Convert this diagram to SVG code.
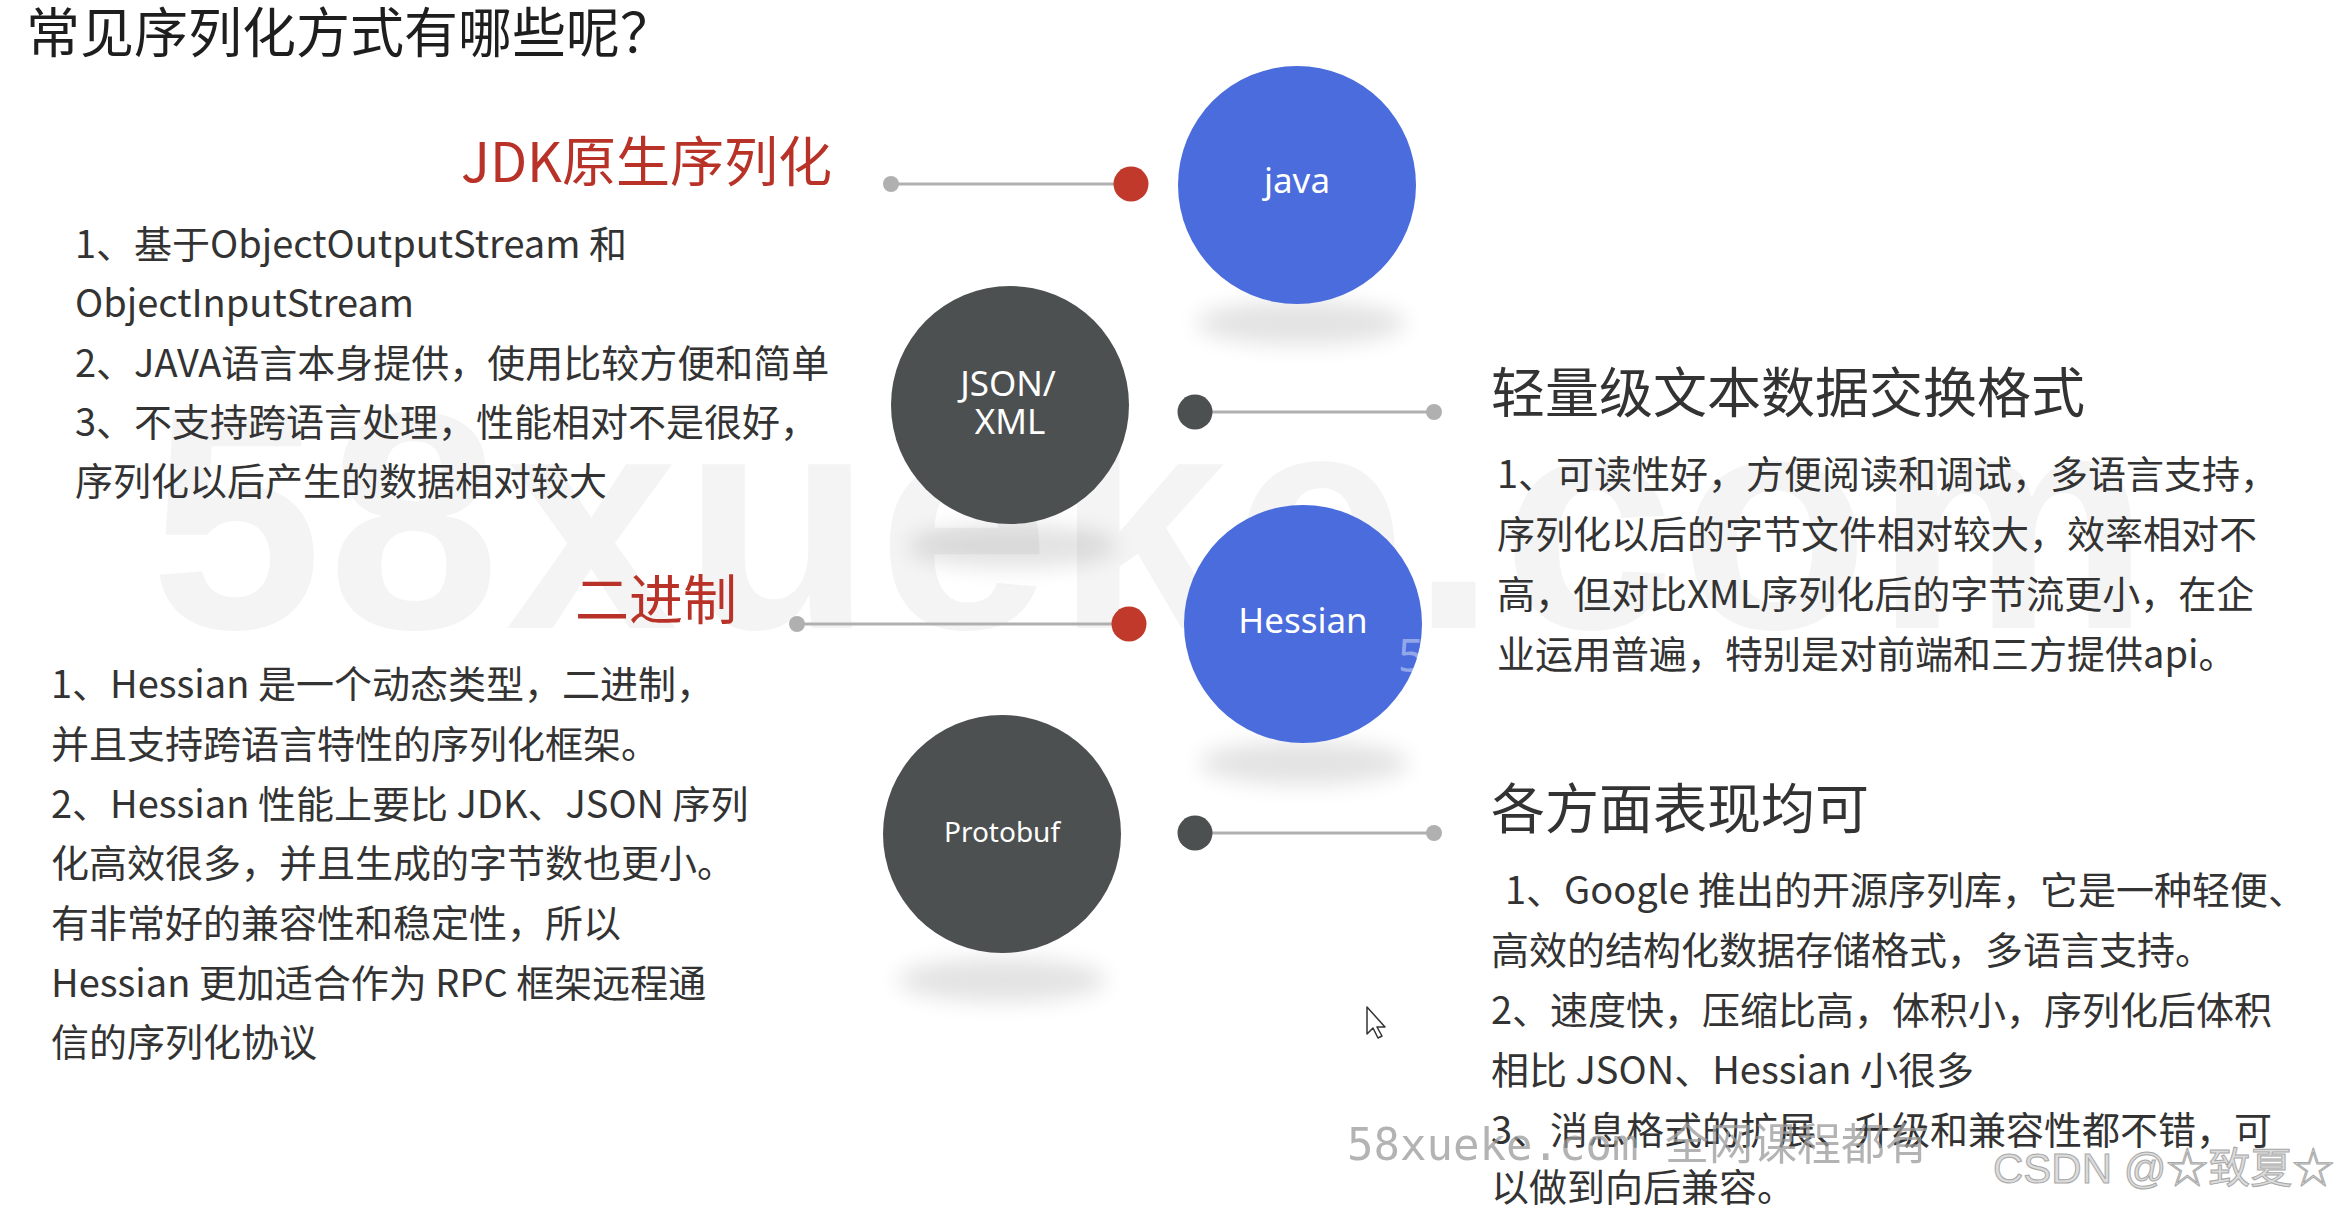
<svg xmlns="http://www.w3.org/2000/svg" width="2345" height="1207" viewBox="0 0 2345 1207">
<style>
.bg{fill:#ffffff}
.wm{font-family:"Liberation Sans","DejaVu Sans",sans-serif;font-weight:bold;font-size:310px;fill:#f4f4f4}
.title{font-family:"Noto Sans CJK SC","Noto Sans",sans-serif;font-size:54px;fill:#1e1e1e}
.head-red{font-family:"Noto Sans CJK SC","Noto Sans",sans-serif;font-size:54px;fill:#b83228}
.head{font-family:"Noto Sans CJK SC","Noto Sans",sans-serif;font-size:54px;fill:#333333}
.body{font-family:"Noto Sans CJK SC","Noto Sans",sans-serif;font-size:38px;fill:#333333}
.lbl{font-family:"Noto Sans","Noto Sans CJK SC",sans-serif;font-size:35px;fill:#ffffff;text-anchor:middle}
.blue{fill:#4a6cdc}
.dark{fill:#4d5050}
.red{fill:#c0392b}
.gdot{fill:#b0b0b0}
.line{stroke:#b0b0b0;stroke-width:3;fill:none}
.shadow{fill:#000;opacity:0.11}
.wm2{font-family:"DejaVu Sans Mono","Noto Sans CJK SC",monospace;font-size:44px;fill:#9a9a9a;opacity:0.75}
.csdn{font-family:"Liberation Sans","Noto Sans CJK SC",sans-serif;font-size:42px;fill:#dcdcdc;stroke:#a8a8a8;stroke-width:1}
</style>
<defs>
<filter id="blur" x="-50%" y="-100%" width="200%" height="300%"><feGaussianBlur stdDeviation="11"/></filter>
</defs>
<rect class="bg" x="0" y="0" width="2345" height="1207"/>

<!-- faint background watermark -->
<text class="wm" x="150" y="628" textLength="2000" lengthAdjust="spacing">58xueke.com</text>

<text id="title" class="title" x="26" y="53">常见序列化方式有哪些呢？</text>

<!-- connectors -->
<g id="connectors">
  <line class="line" x1="891" y1="184" x2="1131" y2="184"/>
  <circle class="gdot" cx="891" cy="184" r="8"/>
  <circle class="red" cx="1131" cy="184" r="17.5"/>

  <line class="line" x1="1195" y1="412" x2="1434" y2="412"/>
  <circle class="dark" cx="1195" cy="412" r="17.5"/>
  <circle class="gdot" cx="1434" cy="412" r="8"/>

  <line class="line" x1="797" y1="624" x2="1129" y2="624"/>
  <circle class="gdot" cx="797" cy="624" r="8"/>
  <circle class="red" cx="1129" cy="624" r="17.5"/>

  <line class="line" x1="1195" y1="833" x2="1434" y2="833"/>
  <circle class="dark" cx="1195" cy="833" r="17.5"/>
  <circle class="gdot" cx="1434" cy="833" r="8"/>
</g>

<!-- nodes -->
<g id="node-java">
  <ellipse class="shadow" cx="1301" cy="323" rx="105" ry="22" filter="url(#blur)"/>
  <circle class="blue" cx="1297" cy="185" r="119"/>
  <text class="lbl" x="1297" y="193">java</text>
</g>
<g id="node-json">
  <ellipse class="shadow" cx="1012" cy="546" rx="105" ry="22" filter="url(#blur)"/>
  <circle class="dark" cx="1010" cy="405" r="119"/>
  <text class="lbl" x="1008" y="396">JSON/</text>
  <text class="lbl" x="1010" y="434">XML</text>
</g>
<g id="node-hessian">
  <ellipse class="shadow" cx="1304" cy="763" rx="105" ry="22" filter="url(#blur)"/>
  <circle class="blue" cx="1303" cy="624" r="119"/>
  <text class="lbl" x="1303" y="633">Hessian</text>
  <text x="1398" y="672" font-family="Noto Sans, sans-serif" font-size="46" fill="#ffffff" opacity="0.4">5</text>
</g>
<g id="node-protobuf">
  <ellipse class="shadow" cx="1002" cy="980" rx="105" ry="22" filter="url(#blur)"/>
  <circle class="dark" cx="1002" cy="834" r="119"/>
  <text class="lbl" x="1002" y="842" style="font-size:28px">Protobuf</text>
</g>

<!-- JDK block -->
<g id="jdk-text">
  <text class="head-red" x="832" y="182" text-anchor="end">JDK原生序列化</text>
  <text class="body" x="75" y="258">1、基于ObjectOutputStream 和</text>
  <text class="body" x="75" y="317">ObjectInputStream</text>
  <text class="body" x="75" y="377">2、JAVA语言本身提供，使用比较方便和简单</text>
  <text class="body" x="75" y="436">3、不支持跨语言处理，性能相对不是很好，</text>
  <text class="body" x="75" y="495">序列化以后产生的数据相对较大</text>
</g>

<!-- Hessian block -->
<g id="hessian-text">
  <text class="head-red" x="737" y="620" text-anchor="end">二进制</text>
  <text class="body" x="51" y="698">1、Hessian 是一个动态类型，二进制，</text>
  <text class="body" x="51" y="758">并且支持跨语言特性的序列化框架。</text>
  <text class="body" x="51" y="818">2、Hessian 性能上要比 JDK、JSON 序列</text>
  <text class="body" x="51" y="877">化高效很多，并且生成的字节数也更小。</text>
  <text class="body" x="51" y="937">有非常好的兼容性和稳定性，所以</text>
  <text class="body" x="51" y="997">Hessian 更加适合作为 RPC 框架远程通</text>
  <text class="body" x="51" y="1056">信的序列化协议</text>
</g>

<!-- JSON block -->
<g id="json-text">
  <text class="head" x="1491" y="413">轻量级文本数据交换格式</text>
  <text class="body" x="1497" y="488">1、可读性好，方便阅读和调试，多语言支持，</text>
  <text class="body" x="1497" y="548">序列化以后的字节文件相对较大，效率相对不</text>
  <text class="body" x="1497" y="608">高，但对比XML序列化后的字节流更小，在企</text>
  <text class="body" x="1497" y="668">业运用普遍，特别是对前端和三方提供api。</text>
</g>

<!-- Protobuf block -->
<g id="protobuf-text">
  <text class="head" x="1491" y="829">各方面表现均可</text>
  <text class="body" x="1505" y="904">1、Google 推出的开源序列库，它是一种轻便、</text>
  <text class="body" x="1491" y="964">高效的结构化数据存储格式，多语言支持。</text>
  <text class="body" x="1491" y="1024">2、速度快，压缩比高，体积小，序列化后体积</text>
  <text class="body" x="1491" y="1084">相比 JSON、Hessian 小很多</text>
  <text class="body" x="1491" y="1144">3、消息格式的扩展、升级和兼容性都不错，可</text>
  <text class="body" x="1491" y="1201">以做到向后兼容。</text>
</g>

<!-- cursor -->
<path d="M1367 1007 L1367 1034 L1373 1028 L1378 1038 L1382 1036 L1377 1027 L1385 1027 Z" fill="#ffffff" stroke="#333" stroke-width="1.5" stroke-linejoin="round"/>

<!-- overlay watermarks -->
<text class="wm2" x="1347" y="1160">58xueke.com 全网课程都有</text>
<text class="csdn" x="1993" y="1183">CSDN @☆致夏☆</text>
</svg>
